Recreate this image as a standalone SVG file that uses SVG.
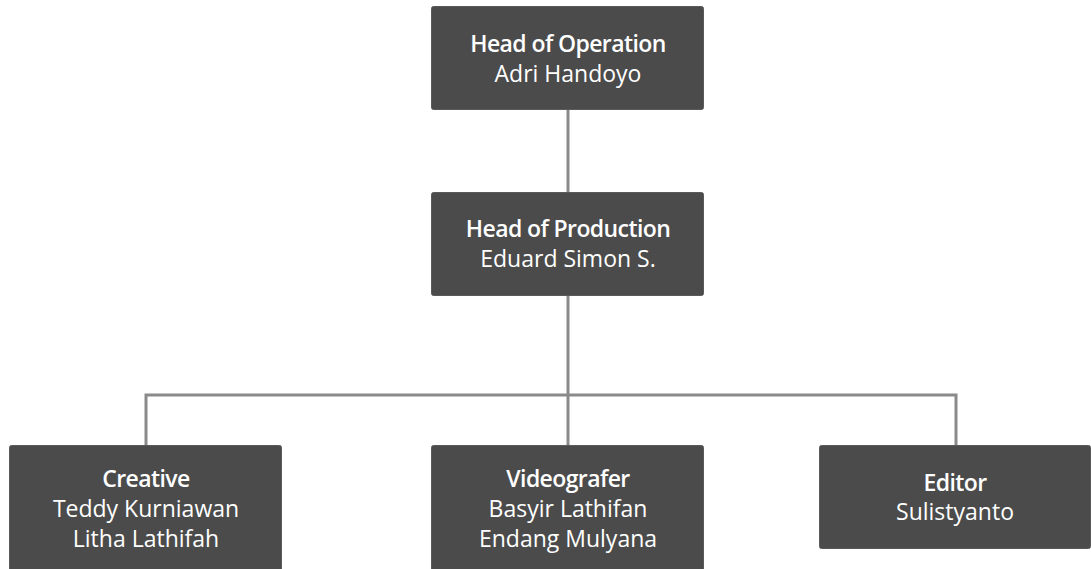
<svg xmlns="http://www.w3.org/2000/svg" width="1091" height="569" viewBox="0 0 1091 569">
<style>
.box{fill:#4b4b4b;stroke:#5a5a5a;stroke-width:1}
.t{font-family:"Open Sans","Noto Sans",sans-serif;font-size:23px;fill:#ffffff;text-anchor:middle}
.b{font-weight:600;letter-spacing:-0.6px}
.c{fill:none;stroke:#8a8a8a;stroke-width:3}
</style>
<rect width="1091" height="569" fill="#ffffff"/>
<g id="connectors">
<path class="c" d="M568 110V192"/>
<path class="c" d="M568 296V445"/>
<path class="c" d="M146 445V395H956V445"/>
</g>
<g id="head-operation">
<rect class="box" x="431.5" y="6.5" width="272" height="103" rx="2"/>
<text class="t b" x="568" y="52">Head of Operation</text>
<text class="t" x="568" y="82">Adri Handoyo</text>
</g>
<g id="head-production">
<rect class="box" x="431.5" y="192.5" width="272" height="103" rx="2"/>
<text class="t b" x="568" y="237">Head of Production</text>
<text class="t" x="568" y="267">Eduard Simon S.</text>
</g>
<g id="creative">
<rect class="box" x="9.5" y="445.5" width="272" height="140" rx="2"/>
<text class="t b" x="146" y="487">Creative</text>
<text class="t" x="146" y="517">Teddy Kurniawan</text>
<text class="t" x="146" y="547">Litha Lathifah</text>
</g>
<g id="videografer">
<rect class="box" x="431.5" y="445.5" width="272" height="140" rx="2"/>
<text class="t b" x="568" y="487">Videografer</text>
<text class="t" x="568" y="517">Basyir Lathifan</text>
<text class="t" x="568" y="547">Endang Mulyana</text>
</g>
<g id="editor">
<rect class="box" x="819.5" y="445.5" width="271" height="103" rx="2"/>
<text class="t b" x="955" y="491">Editor</text>
<text class="t" x="955" y="520">Sulistyanto</text>
</g>
</svg>
